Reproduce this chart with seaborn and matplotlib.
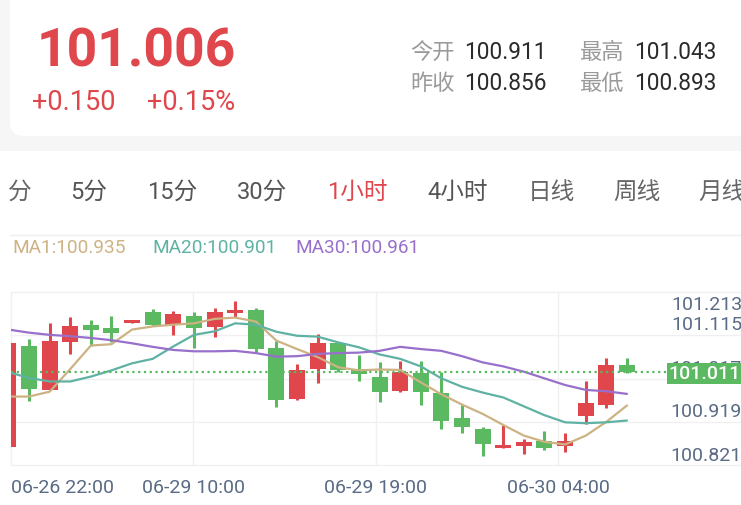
import matplotlib
matplotlib.use("Agg")
import matplotlib.pyplot as plt
import matplotlib.transforms as mtransforms
from matplotlib.patches import FancyBboxPatch, Rectangle
import numpy as np
import pandas as pd
import seaborn as sns

# ---------------- data ----------------
last_price_text = "101.006"
change_abs = "+0.150"
change_pct = "+0.15%"
stat_names = ["今开", "最高", "昨收", "最低"]
stat_values = ["100.911", "101.043", "100.856", "100.893"]
tabs = ["分", "5分", "15分", "30分", "1小时", "4小时", "日线", "周线", "月线"]
active_tab = "1小时"

opens = [100.842, 101.070, 100.970, 101.077, 101.117, 101.109, 101.120, 101.145, 101.117, 101.136,
         101.112, 101.143, 101.151, 101.064, 100.950, 101.017, 101.075, 101.017, 101.000, 100.967,
         101.007, 100.962, 100.907, 100.882, 100.838, 100.843, 100.856, 100.843, 100.911, 100.936,
         101.026]
closes = [101.075, 100.972, 101.080, 101.115, 101.105, 101.098, 101.128, 101.117, 101.141, 101.110,
          101.146, 101.151, 101.062, 100.948, 101.014, 101.075, 101.015, 101.006, 100.966, 101.010,
          100.966, 100.901, 100.886, 100.847, 100.846, 100.852, 100.840, 100.856, 100.940, 101.025,
          101.011]
highs = [101.075, 101.085, 101.121, 101.135, 101.127, 101.137, 101.128, 101.152, 101.147, 101.146,
         101.154, 101.170, 101.154, 101.081, 101.029, 101.097, 101.077, 101.049, 101.032, 101.036,
         101.036, 101.011, 100.936, 100.887, 100.891, 100.859, 100.877, 100.872, 100.990, 101.043,
         101.041]
lows = [100.842, 100.945, 100.970, 101.052, 101.070, 101.077, 101.120, 101.115, 101.094, 101.064,
        101.090, 101.134, 101.056, 100.932, 100.948, 100.985, 101.011, 100.991, 100.942, 100.965,
        100.937, 100.882, 100.874, 100.820, 100.838, 100.825, 100.835, 100.829, 100.893, 100.930,
        101.007]

ma_names = ["MA1", "MA20", "MA30"]
ma_current = ["100.935", "100.901", "100.961"]
ma1 = [100.955, 100.955, 100.966, 101.017, 101.070, 101.073, 101.106, 101.113, 101.117, 101.120,
       101.130, 101.133, 101.124, 101.081, 101.062, 101.044, 101.021, 101.014, 101.016, 101.015,
       100.987, 100.960, 100.937, 100.916, 100.891, 100.867, 100.853, 100.847, 100.867, 100.898,
       100.935]
ma20 = [101.010, 100.997, 100.989, 100.989, 101.000, 101.014, 101.030, 101.040, 101.068, 101.094,
        101.102, 101.120, 101.117, 101.101, 101.092, 101.090, 101.077, 101.066, 101.050, 101.040,
        101.023, 100.996, 100.977, 100.964, 100.953, 100.933, 100.913, 100.897, 100.895, 100.897,
        100.901]
ma30 = [101.106, 101.099, 101.094, 101.091, 101.087, 101.082, 101.075, 101.067, 101.060, 101.057,
        101.057, 101.058, 101.053, 101.045, 101.046, 101.051, 101.053, 101.054, 101.058, 101.067,
        101.062, 101.058, 101.046, 101.032, 101.023, 101.011, 100.996, 100.981, 100.970, 100.967,
        100.961]

y_tick_values = [101.213, 101.115, 101.017, 100.919, 100.821]
x_tick_labels = ["06-26 22:00", "06-29 10:00", "06-29 19:00", "06-30 04:00"]
current_price = 101.011

# ---------------- style ----------------
RED = "#e0474c"
GREEN = "#5bb962"
MA_COLORS = ["#cdb283", "#5fb2a3", "#9870cc"]
AXIS_TXT = "#5a6b85"
GRID = "#f0f0f0"

sns.set_theme(style="white")
plt.rcParams["font.family"] = ["Roboto", "Noto Sans CJK SC", "DejaVu Sans"]

W, H = 741, 506
fig = plt.figure(figsize=(W / 100, H / 100), dpi=100)
fig.patch.set_facecolor("white")

# background / header layer in pixel coordinates
bg = fig.add_axes([0, 0, 1, 1], zorder=0)
bg.set_xlim(0, W)
bg.set_ylim(H, 0)
bg.axis("off")
bg.add_patch(Rectangle((0, 0), W, 152, fc="#f6f6f6", ec="none"))
bg.add_patch(FancyBboxPatch((10, -40), W + 40, 177,
                            boxstyle="round,pad=0,rounding_size=14", fc="white", ec="none"))

bg.text(37, 66, last_price_text, fontsize=38.5, fontweight="bold", color=RED,
        ha="left", va="baseline")
bg.text(32, 110, change_abs, fontsize=19.5, color=RED, ha="left", va="baseline")
bg.text(147, 110, change_pct, fontsize=19.5, color=RED, ha="left", va="baseline")

name_x = [410, 580, 410, 580]
val_x = [464, 634, 464, 634]
row_y = [59, 59, 90, 90]
for nm, vl, nx, vx, ry in zip(stat_names, stat_values, name_x, val_x, row_y):
    bg.text(nx, ry, nm, fontsize=16, color="#9a9a9a", ha="left", va="baseline")
    bg.text(vx, ry, vl, fontsize=16.3, color="#2a2a2a", ha="left", va="baseline")

tab_x = [8, 70, 147, 237, 327, 427, 528, 613, 698]
for t, tx in zip(tabs, tab_x):
    if t == active_tab:
        col = RED
    elif t[0].isdigit():
        col = "#555555"
    else:
        col = "#666666"
    bg.text(tx, 199, t, fontsize=17, color=col, ha="left", va="baseline")

bg.plot([10, W], [236, 236], color="#efefef", lw=1)

leg_x = [12, 152, 295]
for nm, vl, lx, col in zip(ma_names, ma_current, leg_x, MA_COLORS):
    bg.text(lx, 253, f"{nm}:{vl}", fontsize=13.7, color=col, ha="left", va="baseline")

# ---------------- chart ----------------
ax_left, ax_right, ax_top, ax_bottom = 10.7, W, 293, 466
ax = fig.add_axes([ax_left / W, (H - ax_bottom) / H, (ax_right - ax_left) / W,
                   (ax_bottom - ax_top) / H], zorder=1)
ax.patch.set_alpha(0)

idx = np.arange(len(opens))
o = np.array(opens)
c = np.array(closes)
colors = np.where(c >= o, RED, GREEN)

# grid
for k in range(5):
    f = k / 4
    ax.plot([0, 1], [f, f], transform=ax.transAxes, color=GRID, lw=1, zorder=0, clip_on=False)
    ax.plot([f, f], [0, 1], transform=ax.transAxes, color=GRID, lw=1, zorder=0, clip_on=False)

ax.vlines(idx, lows, highs, colors=colors, lw=2.2, zorder=2)
ax.bar(idx, np.maximum(np.abs(c - o), 0.0012), bottom=np.minimum(o, c), width=0.776,
       color=colors, lw=0, zorder=3)

df = pd.DataFrame({"idx": idx, "MA1": ma1, "MA20": ma20, "MA30": ma30})
for nm, col in zip(ma_names, MA_COLORS):
    sns.lineplot(data=df, x="idx", y=nm, ax=ax, color=col, lw=1.6, zorder=4)

ax.set_xlim(0.1115, 35.53)
ax.set_ylim(100.8008, 101.1906)
ax.set_xticks([])
ax.set_yticks([])
ax.set_xlabel("")
ax.set_ylabel("")
for s in ax.spines.values():
    s.set_visible(False)

box_left_frac = (672 - ax_left) / (ax_right - ax_left)
ax.axhline(current_price, xmin=0, xmax=box_left_frac, color=GREEN, lw=1.6,
           ls=(0, (1, 1.6)), zorder=5)

# y labels
blend = mtransforms.blended_transform_factory(ax.transAxes, ax.transData)
ytop = ax.get_ylim()[1]
for v in y_tick_values:
    if v > ytop:
        tr = mtransforms.offset_copy(ax.transAxes, fig=fig, x=1, y=-17, units="dots")
        ax.text(1.0, 1.0, f"{v:.3f}", transform=tr, ha="right", va="baseline",
                fontsize=14, color=AXIS_TXT, zorder=5)
    else:
        tr = mtransforms.offset_copy(blend, fig=fig, x=1, y=-3.5, units="dots")
        ax.text(1.0, v, f"{v:.3f}", transform=tr, ha="right", va="baseline",
                fontsize=14, color=AXIS_TXT, zorder=5)

tr_box = mtransforms.offset_copy(blend, fig=fig, x=0, y=-1.5, units="dots")
ax.text(1.0, current_price, f"{current_price:.3f}", transform=tr_box, ha="right", va="center",
        color="white", fontsize=14, fontweight="medium", zorder=7,
        bbox=dict(boxstyle="square,pad=0.08", fc=GREEN, ec="none"))

# x labels
xl_pos = [0, 0.25, 0.5, 0.75]
xl_y = -(493 - ax_bottom) / (ax_bottom - ax_top)
for lab, p in zip(x_tick_labels, xl_pos):
    ax.text(p, xl_y, lab, transform=ax.transAxes, ha="left" if p == 0 else "center",
            va="baseline", fontsize=14, color=AXIS_TXT, clip_on=False)

fig.savefig("out.png", dpi=100)
